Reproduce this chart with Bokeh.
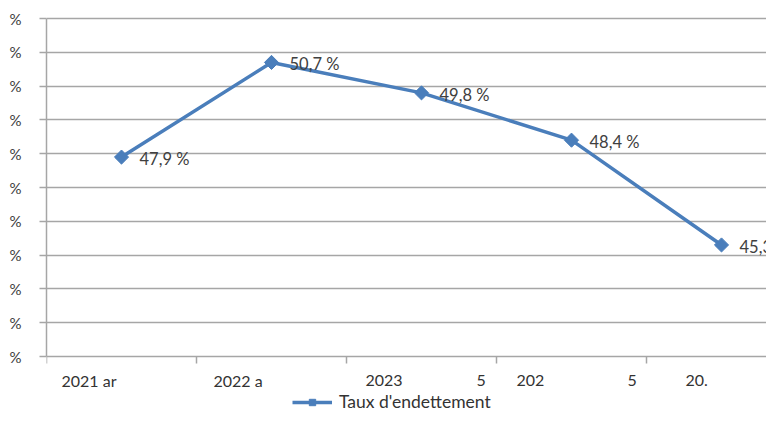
import math
from bokeh.plotting import figure
from bokeh.models import (ColumnDataSource, FixedTicker, Label, Legend, LegendItem,
                          Range1d)
from bokeh.core.properties import value
from bokeh.embed import file_html
from bokeh.resources import INLINE

# ---- data ----
categories = [1, 2, 3, 4, 5]
debt_ratio = [47.9, 50.7, 49.8, 48.4, 45.3]
point_labels = ["47,9 %", "50,7 %", "49,8 %", "48,4 %", "45,3 %"]
y_ticks = [42, 43, 44, 45, 46, 47, 48, 49, 50, 51, 52]
y_tick_labels = ["%"] * len(y_ticks)
x_boundaries = [0.5, 1.5, 2.5, 3.5, 4.5, 5.5]
# visible fragments of the (partly covered) category labels
x_label_cat = [1, 2, 3, 3, 4, 4, 5]
x_label_text = ["2021 ar", "2022 a", "2023", "5", "202", "5", "20."]
series_name = "Taux d'endettement"

# ---- style ----
FONT = "Lato"
BLUE = "#4a7ebb"
GRID = "#a6a6a6"
TXT = "#404040"
x_label_offset = [-60, -58, -56, 55, -55, 56, -36]
PX_PER_Y = 33.8
TICK_LEN = 7

p = figure(width=766, height=412, output_backend="svg", toolbar_location=None,
           x_axis_type=None,
           x_range=Range1d(0.5, 0.5 + 720 / 150),
           y_range=Range1d(42 - 56 / PX_PER_Y, 52 + 2 / PX_PER_Y),
           min_border_left=46, min_border_top=16, min_border_right=0,
           min_border_bottom=0)
p.outline_line_color = None
p.background_fill_color = "white"

# y axis
p.yaxis.ticker = FixedTicker(ticks=y_ticks)
p.yaxis.bounds = (y_ticks[0], y_ticks[-1])
p.yaxis.major_label_overrides = {t: l for t, l in zip(y_ticks, y_tick_labels)}
p.yaxis.axis_line_color = GRID
p.yaxis.axis_line_width = 1.5
p.yaxis.major_tick_line_color = GRID
p.yaxis.major_tick_line_width = 1.5
p.yaxis.major_tick_out = TICK_LEN
p.yaxis.major_tick_in = 0
p.yaxis.minor_tick_line_color = None
p.yaxis.major_label_standoff = 18
p.yaxis.major_label_text_font = FONT
p.yaxis.major_label_text_font_size = "15px"
p.yaxis.major_label_text_color = TXT

p.ygrid.ticker = FixedTicker(ticks=y_ticks)
p.ygrid.grid_line_color = GRID
p.ygrid.grid_line_width = 1.5

# category-boundary tick marks below the horizontal axis
tick_src = ColumnDataSource(dict(x=x_boundaries))
p.segment(x0="x", x1="x", y0=y_ticks[0], y1=y_ticks[0] - TICK_LEN / PX_PER_Y,
          source=tick_src, line_color=GRID, line_width=1.5)

src = ColumnDataSource(dict(x=categories, y=debt_ratio, lab=point_labels))
ln = p.line("x", "y", source=src, line_color=BLUE, line_width=3.5)
mk = p.scatter("x", "y", source=src, marker="square", angle=math.pi / 4, size=10,
               fill_color=BLUE, line_color=BLUE)
p.text("x", "y", text="lab", source=src, x_offset=18, y_offset=2,
       text_font=value(FONT), text_font_size="16.5px", text_color=TXT,
       text_baseline="middle", text_align="left")

for c, t, off in zip(x_label_cat, x_label_text, x_label_offset):
    p.add_layout(Label(x=c, y=y_ticks[0], text=t, x_offset=off, y_offset=-24,
                       text_font=FONT, text_font_size="16px", text_color="#333333",
                       text_baseline="middle", text_align="left"))

legend = Legend(items=[LegendItem(label=series_name, renderers=[ln, mk])],
                location=(246, 0), orientation="horizontal",
                border_line_color=None, background_fill_alpha=0,
                padding=0, margin=0, glyph_width=40, glyph_height=16,
                label_standoff=7, label_text_font=FONT,
                label_text_font_size="17.5px", label_text_color="#333333")
p.add_layout(legend, "center")

open("out.html", "w").write(file_html(p, INLINE))
